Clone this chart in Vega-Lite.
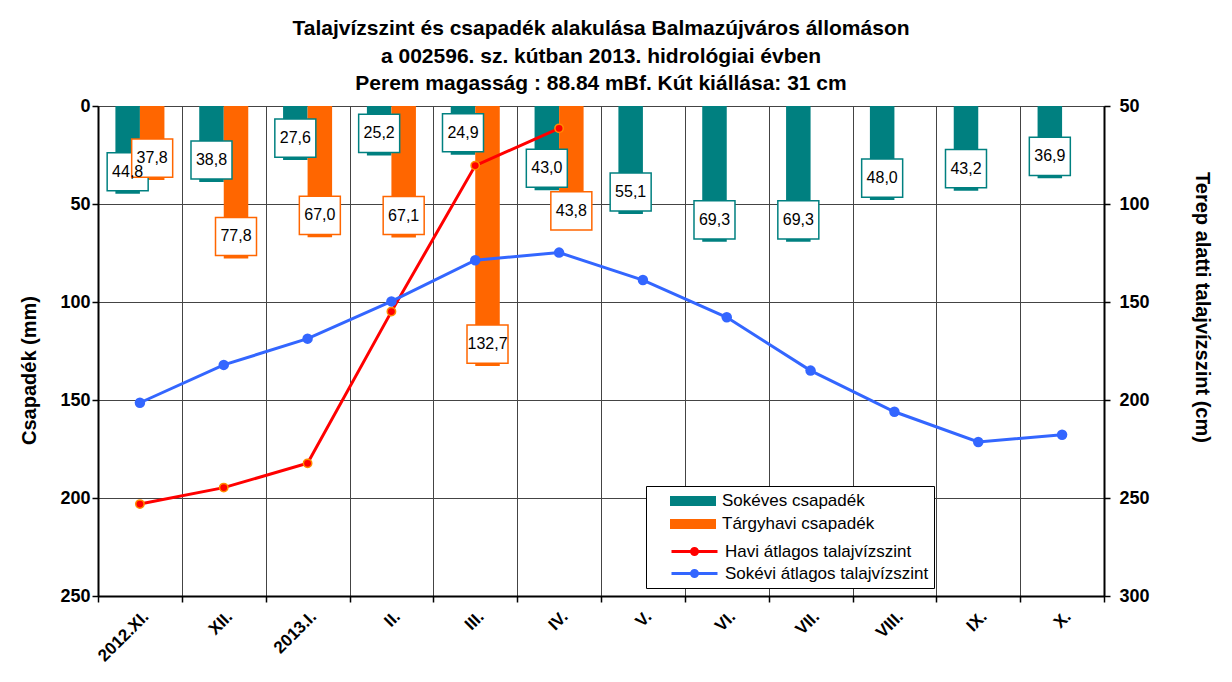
{
  "$schema": "https://vega.github.io/schema/vega-lite/v6.json",
  "width": 1006,
  "height": 490,
  "autosize": {"type": "none"},
  "padding": {"left": 98, "top": 106, "right": 128, "bottom": 86},
  "background": "white",
  "config": {
    "font": "Liberation Sans",
    "locale": {"number": {"decimal": ",", "thousands": " ", "grouping": [3], "currency": ["", ""]}},
    "view": {"stroke": "#808080", "strokeWidth": 1}
  },
  "title": {
    "text": ["Talajvízszint és csapadék alakulása Balmazújváros állomáson", "a 002596. sz. kútban 2013. hidrológiai évben", "Perem magasság : 88.84 mBf.  Kút kiállása: 31 cm"],
    "fontSize": 21,
    "fontWeight": "bold",
    "lineHeight": 27.5,
    "offset": 3,
    "anchor": "middle",
    "color": "black",
    "font": "Liberation Sans"
  },
  "datasets": {
    "bars": [
      {"month": "2012.XI.", "series": "Sokéves csapadék", "value": 44.8},
      {"month": "XII.", "series": "Sokéves csapadék", "value": 38.8},
      {"month": "2013.I.", "series": "Sokéves csapadék", "value": 27.6},
      {"month": "II.", "series": "Sokéves csapadék", "value": 25.2},
      {"month": "III.", "series": "Sokéves csapadék", "value": 24.9},
      {"month": "IV.", "series": "Sokéves csapadék", "value": 43.0},
      {"month": "V.", "series": "Sokéves csapadék", "value": 55.1},
      {"month": "VI.", "series": "Sokéves csapadék", "value": 69.3},
      {"month": "VII.", "series": "Sokéves csapadék", "value": 69.3},
      {"month": "VIII.", "series": "Sokéves csapadék", "value": 48.0},
      {"month": "IX.", "series": "Sokéves csapadék", "value": 43.2},
      {"month": "X.", "series": "Sokéves csapadék", "value": 36.9},
      {"month": "2012.XI.", "series": "Tárgyhavi csapadék", "value": 37.8},
      {"month": "XII.", "series": "Tárgyhavi csapadék", "value": 77.8},
      {"month": "2013.I.", "series": "Tárgyhavi csapadék", "value": 67.0},
      {"month": "II.", "series": "Tárgyhavi csapadék", "value": 67.1},
      {"month": "III.", "series": "Tárgyhavi csapadék", "value": 132.7},
      {"month": "IV.", "series": "Tárgyhavi csapadék", "value": 43.8}
    ],
    "lines": [
      {"month": "2012.XI.", "series": "Havi átlagos talajvízszint", "value": 253.1},
      {"month": "XII.", "series": "Havi átlagos talajvízszint", "value": 244.7},
      {"month": "2013.I.", "series": "Havi átlagos talajvízszint", "value": 232.3},
      {"month": "II.", "series": "Havi átlagos talajvízszint", "value": 154.9},
      {"month": "III.", "series": "Havi átlagos talajvízszint", "value": 80.4},
      {"month": "IV.", "series": "Havi átlagos talajvízszint", "value": 61.4},
      {"month": "2012.XI.", "series": "Sokévi átlagos talajvízszint", "value": 201.4},
      {"month": "XII.", "series": "Sokévi átlagos talajvízszint", "value": 182.1},
      {"month": "2013.I.", "series": "Sokévi átlagos talajvízszint", "value": 168.7},
      {"month": "II.", "series": "Sokévi átlagos talajvízszint", "value": 149.7},
      {"month": "III.", "series": "Sokévi átlagos talajvízszint", "value": 128.7},
      {"month": "IV.", "series": "Sokévi átlagos talajvízszint", "value": 124.8},
      {"month": "V.", "series": "Sokévi átlagos talajvízszint", "value": 138.8},
      {"month": "VI.", "series": "Sokévi átlagos talajvízszint", "value": 157.8},
      {"month": "VII.", "series": "Sokévi átlagos talajvízszint", "value": 185.0},
      {"month": "VIII.", "series": "Sokévi átlagos talajvízszint", "value": 206.0},
      {"month": "IX.", "series": "Sokévi átlagos talajvízszint", "value": 221.4},
      {"month": "X.", "series": "Sokévi átlagos talajvízszint", "value": 217.7}
    ]
  },
  "layer": [
    {
      "data": {"name": "bars"},
      "encoding": {
        "x": {
          "field": "month",
          "type": "nominal",
          "sort": ["2012.XI.", "XII.", "2013.I.", "II.", "III.", "IV.", "V.", "VI.", "VII.", "VIII.", "IX.", "X."],
          "scale": {"paddingInner": 0, "paddingOuter": 0},
          "axis": {
            "title": null,
            "tickBand": "extent",
            "grid": true,
            "gridColor": "#444444",
            "gridWidth": 1,
            "domainColor": "black",
            "domainWidth": 2,
            "tickColor": "black",
            "tickSize": 6,
            "tickWidth": 1.5,
            "labelAngle": -45,
            "labelFontSize": 17,
            "labelFontWeight": "bold",
            "labelColor": "black",
            "labelPadding": 6
          }
        },
        "xOffset": {
          "field": "series",
          "type": "nominal",
          "sort": ["Sokéves csapadék", "Tárgyhavi csapadék"],
          "scale": {"paddingInner": 0, "paddingOuter": 0.71}
        },
        "y": {
          "field": "value",
          "type": "quantitative",
          "scale": {"domain": [0, 250], "reverse": true, "nice": false, "zero": true},
          "axis": {
            "orient": "left",
            "title": "Csapadék (mm)",
            "titleFontSize": 20,
            "titleFontWeight": "bold",
            "titleColor": "black",
            "titlePadding": 20,
            "titleY": 264,
            "values": [0, 50, 100, 150, 200, 250],
            "grid": true,
            "gridColor": "#444444",
            "gridWidth": 1,
            "domainColor": "black",
            "domainWidth": 2,
            "tickColor": "black",
            "tickSize": 6,
            "tickWidth": 1.5,
            "labelFontSize": 18,
            "labelFontWeight": "bold",
            "labelColor": "black",
            "labelPadding": 2
          }
        }
      },
      "layer": [
        {
          "mark": {"type": "bar"},
          "encoding": {
            "fill": {
              "field": "series",
              "type": "nominal",
              "scale": {
                "domain": ["Sokéves csapadék", "Tárgyhavi csapadék"],
                "range": ["#008080", "#FF6600"]
              },
              "legend": {
                "orient": "none",
                "legendX": 548,
                "legendY": 380,
                "zindex": 2,
                "title": null,
                "direction": "vertical",
                "padding": 5,
                "labelFont": "Liberation Sans",
                "labelFontSize": 17,
                "labelColor": "black",
                "labelLimit": 0,
                "symbolSize": 400,
                "symbolStrokeWidth": 0,
                "labelOffset": 51,
                "rowPadding": 5,
                "symbolType": "M0.9,-0.5H5.5V0.5H0.9Z"
              }
            }
          }
        },
        {
          "transform": [{"filter": "!(datum.series === 'Tárgyhavi csapadék' && datum.month === 'IV.')"}],
          "mark": {"type": "point", "shape": "M-1,-0.93H1V0.93H-1Z", "size": 1681, "filled": false, "fill": "white", "fillOpacity": 1, "strokeWidth": 1.5, "opacity": 1, "yOffset": -22},
          "encoding": {
            "stroke": {"field": "series", "type": "nominal"}
          }
        },
        {
          "transform": [{"filter": "datum.series === 'Tárgyhavi csapadék' && datum.month === 'IV.'"}],
          "mark": {"type": "point", "shape": "M-1,-0.93H1V0.93H-1Z", "size": 1681, "filled": false, "fill": "white", "fillOpacity": 1, "strokeWidth": 1.5, "opacity": 1, "yOffset": 19},
          "encoding": {
            "stroke": {"field": "series", "type": "nominal"}
          }
        },
        {
          "transform": [{"filter": "!(datum.series === 'Tárgyhavi csapadék' && datum.month === 'IV.')"}],
          "mark": {"type": "text", "fontSize": 16, "color": "black", "yOffset": -22, "baseline": "middle", "align": "center"},
          "encoding": {
            "text": {"field": "value", "type": "quantitative", "format": ".1f"}
          }
        },
        {
          "transform": [{"filter": "datum.series === 'Tárgyhavi csapadék' && datum.month === 'IV.'"}],
          "mark": {"type": "text", "fontSize": 16, "color": "black", "yOffset": 19, "baseline": "middle", "align": "center"},
          "encoding": {
            "text": {"field": "value", "type": "quantitative", "format": ".1f"}
          }
        }
      ]
    },
    {
      "data": {"name": "lines"},
      "encoding": {
        "x": {
          "field": "month",
          "type": "nominal",
          "sort": ["2012.XI.", "XII.", "2013.I.", "II.", "III.", "IV.", "V.", "VI.", "VII.", "VIII.", "IX.", "X."]
        },
        "y": {
          "field": "value",
          "type": "quantitative",
          "scale": {"domain": [50, 300], "reverse": true, "nice": false, "zero": false},
          "axis": {
            "orient": "right",
            "title": "Terep alatti talajvízszint (cm)",
            "titleFontSize": 20,
            "titleFontWeight": "bold",
            "titleColor": "black",
            "titlePadding": 42,
            "titleY": 201,
            "values": [50, 100, 150, 200, 250, 300],
            "grid": false,
            "domainColor": "black",
            "domainWidth": 2,
            "tickColor": "black",
            "tickSize": 6,
            "tickWidth": 1.5,
            "labelFontSize": 18,
            "labelFontWeight": "bold",
            "labelColor": "black",
            "labelPadding": 9
          }
        }
      },
      "layer": [
        {
          "mark": {"type": "line", "strokeWidth": 3},
          "encoding": {
            "stroke": {
              "field": "series",
              "type": "nominal",
              "scale": {
                "domain": ["Sokéves csapadék", "Tárgyhavi csapadék", "Havi átlagos talajvízszint", "Sokévi átlagos talajvízszint"],
                "range": ["#008080", "#FF6600", "#FF0000", "#3366FF"]
              },
              "legend": {
                "values": ["Havi átlagos talajvízszint", "Sokévi átlagos talajvízszint"],
                "orient": "none",
                "legendX": 548,
                "legendY": 380,
                "zindex": 1,
                "title": [" ", " "],
                "titleFontSize": 16,
                "titleLineHeight": 25,
                "titlePadding": 8,
                "direction": "vertical",
                "fillColor": "white",
                "strokeColor": "black",
                "padding": 5,
                "labelFont": "Liberation Sans",
                "labelFontSize": 17,
                "labelColor": "black",
                "labelLimit": 0,
                "symbolSize": 400,
                "symbolStrokeWidth": 3,
                "labelOffset": 51,
                "rowPadding": 1,
                "symbolType": "M0.9,0H5.5M3.5,0A0.3,0.3,0,1,1,2.9,0A0.3,0.3,0,1,1,3.5,0Z"
              }
            }
          }
        },
        {
          "transform": [{"filter": "datum.series === 'Havi átlagos talajvízszint'"}],
          "mark": {"type": "point", "filled": true, "fill": "#FF0000", "stroke": "#FF8C00", "strokeWidth": 1.5, "size": 70, "opacity": 1}
        },
        {
          "transform": [{"filter": "datum.series === 'Sokévi átlagos talajvízszint'"}],
          "mark": {"type": "point", "filled": true, "fill": "#3366FF", "size": 110, "opacity": 1}
        }
      ]
    }
  ],
  "resolve": {"scale": {"y": "independent"}, "axis": {"y": "independent"}}
}
